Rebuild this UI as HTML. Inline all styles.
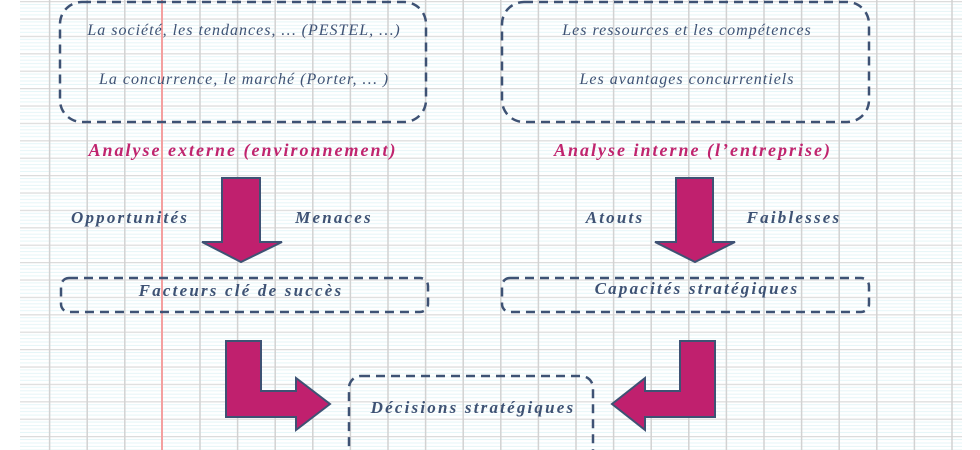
<!DOCTYPE html>
<html><head><meta charset="utf-8"><style>
body{margin:0;width:980px;height:450px;overflow:hidden;background:#fff;font-family:"Liberation Serif",serif;font-style:italic}
.t{position:absolute;color:#3e5274;font-size:16px;letter-spacing:1px;white-space:nowrap;transform:translateX(-50%)}
.m{color:#c0246e;font-weight:bold;font-size:18px;letter-spacing:2px}
.b{font-weight:bold;font-size:17px;letter-spacing:2.2px}
</style></head><body>
<svg width="980" height="450" style="position:absolute;left:0;top:0">
<defs>
<pattern id="h" x="20" y="1" width="10" height="17.4" patternUnits="userSpaceOnUse">
<rect width="10" height="17.4" fill="#fff"/>
<line x1="0" x2="10" y1="3.5" y2="3.5" stroke="#e6f6f8" stroke-width="1"/>
<line x1="0" x2="10" y1="7" y2="7" stroke="#e6f6f8" stroke-width="1"/>
<line x1="0" x2="10" y1="10.4" y2="10.4" stroke="#e6f6f8" stroke-width="1"/>
<line x1="0" x2="10" y1="13.9" y2="13.9" stroke="#e6f6f8" stroke-width="1"/>
<line x1="0" x2="10" y1="0.5" y2="0.5" stroke="#dcdcdc" stroke-width="1.5"/>
</pattern>
</defs>
<rect x="20" y="0" width="942" height="450" fill="url(#h)"/>
<g stroke="#d2d2d2" stroke-width="1.5">
<line x1="49.6" y1="0" x2="49.6" y2="450"/><line x1="87.2" y1="0" x2="87.2" y2="450"/><line x1="124.8" y1="0" x2="124.8" y2="450"/>
<line x1="200" y1="0" x2="200" y2="450"/><line x1="237.6" y1="0" x2="237.6" y2="450"/><line x1="275.2" y1="0" x2="275.2" y2="450"/><line x1="312.8" y1="0" x2="312.8" y2="450"/><line x1="350.4" y1="0" x2="350.4" y2="450"/><line x1="388" y1="0" x2="388" y2="450"/><line x1="425.6" y1="0" x2="425.6" y2="450"/><line x1="463.2" y1="0" x2="463.2" y2="450"/><line x1="500.8" y1="0" x2="500.8" y2="450"/><line x1="538.4" y1="0" x2="538.4" y2="450"/><line x1="576" y1="0" x2="576" y2="450"/><line x1="613.6" y1="0" x2="613.6" y2="450"/><line x1="651.2" y1="0" x2="651.2" y2="450"/><line x1="688.8" y1="0" x2="688.8" y2="450"/><line x1="726.4" y1="0" x2="726.4" y2="450"/><line x1="764" y1="0" x2="764" y2="450"/><line x1="801.6" y1="0" x2="801.6" y2="450"/><line x1="839.2" y1="0" x2="839.2" y2="450"/><line x1="876.8" y1="0" x2="876.8" y2="450"/><line x1="914.4" y1="0" x2="914.4" y2="450"/><line x1="952" y1="0" x2="952" y2="450"/>
</g>
<line x1="162" y1="0" x2="162" y2="450" stroke="#f4a0a0" stroke-width="2"/>
<g fill="none" stroke="#3e5274" stroke-width="2.5" stroke-dasharray="9,6">
<rect x="60" y="2" width="366" height="120" rx="22"/>
<rect x="502" y="2" width="367" height="120" rx="22"/>
<rect x="61" y="278" width="367" height="34" rx="8"/>
<rect x="502" y="278" width="367" height="34" rx="8"/>
<rect x="349" y="376" width="244" height="90" rx="12"/>
</g>
<g fill="#c0206e" stroke="#3e5274" stroke-width="2">
<polygon points="222,178 260,178 260,242 282,242 241,262 202,242 222,242"/>
<polygon points="676,178 713,178 713,242 735,242 695,262 655,242 676,242"/>
<polygon points="226,341 261,341 261,391 296,391 296,378 330,404 296,430 296,417 226,417"/>
<polygon points="715,341 680,341 680,391 645,391 645,378 612,404 645,430 645,417 715,417"/>
</g>
</svg>
<div class="t" style="left:244px;top:22px">La société, les tendances, … (PESTEL, …)</div>
<div class="t" style="left:244px;top:71px">La concurrence, le marché (Porter, … )</div>
<div class="t" style="left:687px;top:22px">Les ressources et les compétences</div>
<div class="t" style="left:687px;top:71px">Les avantages concurrentiels</div>
<div class="t m" style="left:243px;top:140px">Analyse externe (environnement)</div>
<div class="t m" style="left:693px;top:140px">Analyse interne (l’entreprise)</div>
<div class="t b" style="left:130px;top:208px">Opportunités</div>
<div class="t b" style="left:334px;top:208px">Menaces</div>
<div class="t b" style="left:615px;top:208px">Atouts</div>
<div class="t b" style="left:794px;top:208px">Faiblesses</div>
<div class="t b" style="left:241px;top:281px">Facteurs clé de succès</div>
<div class="t b" style="left:697px;top:279px">Capacités stratégiques</div>
<div class="t b" style="left:473px;top:398px">Décisions stratégiques</div>
</body></html>
